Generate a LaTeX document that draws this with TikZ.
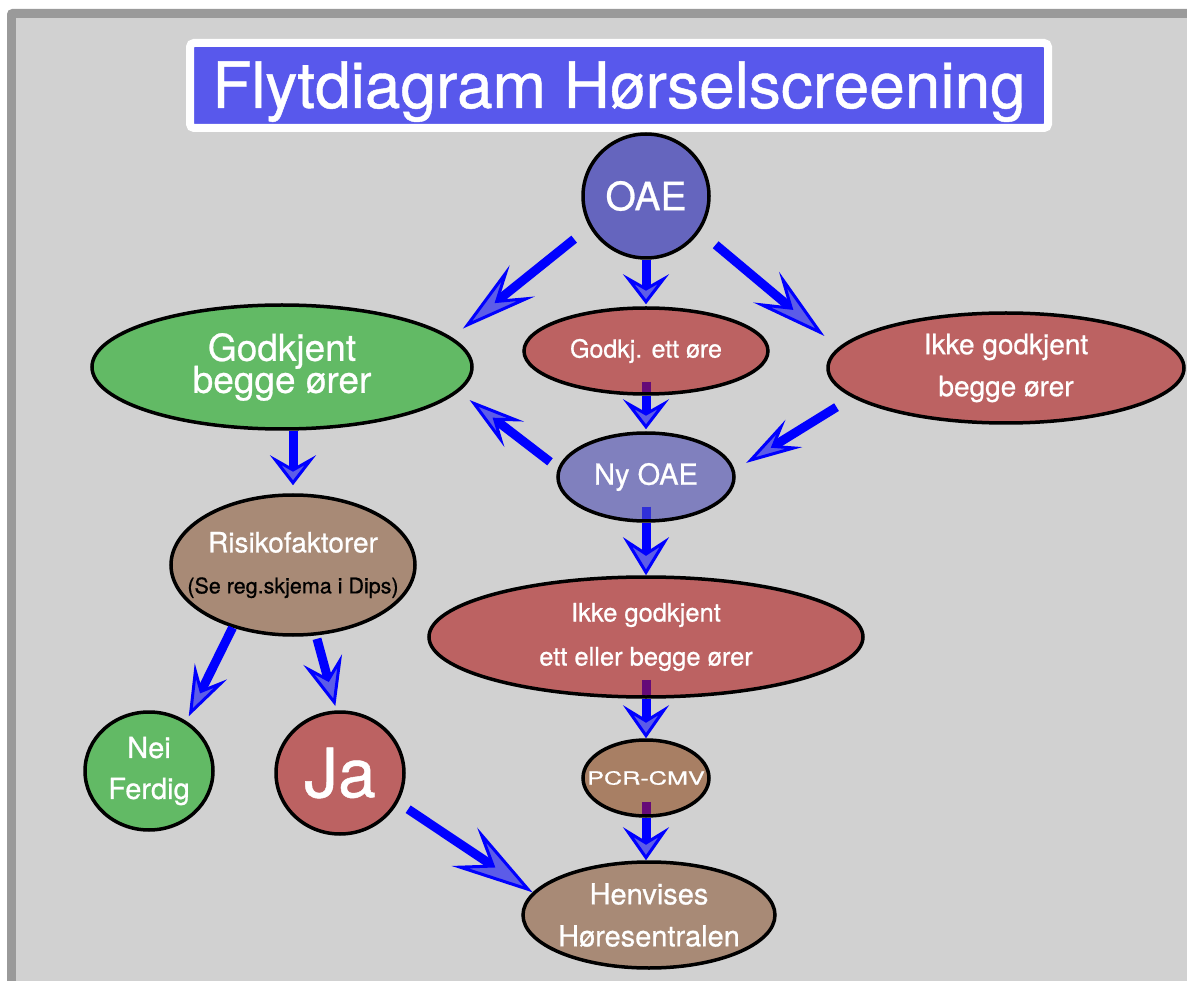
\documentclass[tikz,border=0pt]{standalone}
\usepackage{fontspec}
\usepackage{graphicx}
\setmainfont{TeX Gyre Heros}[FakeBold=0.7]
\usetikzlibrary{shapes.geometric,arrows.meta,calc}

\definecolor{bggray}{HTML}{D1D1D1}
\definecolor{framegray}{HTML}{9A9A9A}
\definecolor{titleblue}{HTML}{5858EC}
\definecolor{oaeblue}{HTML}{6565BE}
\definecolor{nyblue}{HTML}{8080BE}
\definecolor{passgreen}{HTML}{62BA65}
\definecolor{failred}{HTML}{BC6262}
\definecolor{taupe}{HTML}{A88A76}
\definecolor{pcrbrown}{HTML}{A87F64}
\definecolor{arrowblue}{HTML}{0000FF}
\definecolor{tipfill}{HTML}{5C5CE8}
\definecolor{stubpurple}{HTML}{650A78}
\definecolor{stubblue}{HTML}{3030D8}

\newcommand\nodefont[2]{\fontsize{#1}{#2}\selectfont\lineskiplimit=-100pt\relax}

\tikzset{
  stage/.style={ellipse, draw=black, line width=3.5pt, inner sep=0pt, text=white, align=center},
  flow/.style n args={3}{draw=arrowblue, line width=9pt,
    -{Stealth[length=#1, width=#2, inset=#3, line width=3pt, fill=tipfill]}},
  stubline/.style={draw=#1, line width=9pt},
}

\begin{document}
\begin{tikzpicture}[x=1pt, y=-1pt]
    \useasboundingbox (0,0) rectangle (1187,981);
    % frame and background
    \fill[framegray, rounded corners=5pt] (7,9) rectangle (1210,1000);
    \fill[bggray] (16,18) rectangle (1210,1000);

    % title
    \node[fill=titleblue, draw=white, line width=8pt, rounded corners=4pt, inner sep=0pt,
          minimum width=858pt, minimum height=85pt, text=white, font=\nodefont{64}{70},
          text height=45pt, text depth=0pt] (title) at (619,85.5) {Flytdiagram Hørselscreening};

    % stages
    \node[stage, fill=oaeblue, minimum width=126pt, minimum height=124pt, font=\nodefont{39}{45}] (oae) at (646,196) {OAE};
    \node[stage, fill=passgreen, minimum width=380pt, minimum height=124pt, font=\nodefont{37}{32}] (godkB) at (282,367) {Godkjent\\begge ører};
    \node[stage, fill=failred, minimum width=244pt, minimum height=86pt, font=\nodefont{25}{30}] (godkE) at (646,351) {Godkj. ett øre};
    \node[stage, fill=failred, minimum width=356pt, minimum height=110pt, font=\nodefont{28}{42}] (ikkeB) at (1006,368) {Ikke godkjent\\begge ører};
    \node[stage, fill=nyblue, minimum width=176pt, minimum height=88pt, font=\nodefont{29}{34}] (nyOAE) at (646,477) {Ny OAE};
    \node[stage, fill=taupe, inner xsep=-30pt, minimum width=244pt, minimum height=140pt, font=\nodefont{28}{41}] (risiko) at (293,565)
        {Risikofaktorer\\{\color{black}\fontsize{21.5}{41}\selectfont(Se reg.skjema i Dips)}};
    \node[stage, fill=failred, minimum width=434pt, minimum height=120pt, font=\nodefont{25.5}{44}] (ikkeE) at (646,637) {Ikke godkjent\\ett eller begge ører};
    \node[stage, fill=pcrbrown, inner xsep=-25pt, minimum width=126pt, minimum height=76pt, font=\nodefont{18}{22}] (pcr) at (646,778) {\scalebox{1.4}[1]{PCR-CMV}};
    \node[stage, fill=taupe, inner xsep=-5pt, minimum width=252pt, minimum height=106pt, font=\nodefont{29}{42}] (henv) at (649,915) {Henvises\\Høresentralen};
    \node[stage, fill=passgreen, minimum width=128pt, minimum height=118pt, font=\nodefont{29}{41}] (nei) at (149,771) {Nei\\Ferdig};
    \node[stage, fill=failred, minimum width=128pt, minimum height=122pt, font=\nodefont{68}{70}] (ja) at (340,773) {Ja};

    % arrows
    \draw[flow={76pt}{40pt}{30pt}] ($(oae)!1.30!(oae.211)$) -- ($(godkB)!1.12!(godkB.12)$);
    \draw[flow={30pt}{46pt}{13pt}] (oae.south) -- ([yshift=2pt]godkE.north);
    \draw[flow={76pt}{40pt}{30pt}] ($(oae)!1.32!(oae.325)$) -- ($(ikkeB)!1.157!(ikkeB.170)$);
    \draw[stubline=stubpurple] ([yshift=14pt]godkE.south) -- ([yshift=3.5pt]godkE.south);
    \draw[flow={30pt}{46pt}{13pt}] (godkE.south) -- ([yshift=2pt]nyOAE.north);
    \draw[flow={56pt}{32pt}{22pt}] ($(ikkeB)!1.168!(ikkeB.193)$) -- ($(nyOAE)!1.158!(nyOAE.8)$);
    \draw[flow={56pt}{32pt}{22pt}] ($(nyOAE)!1.12!(nyOAE.171)$) -- ($(godkB)!1.108!(godkB.-10)$);
    \draw[stubline=stubblue] ([yshift=16pt]nyOAE.south) -- ([yshift=3.5pt]nyOAE.south);
    \draw[flow={38pt}{46pt}{15pt}] (nyOAE.south) -- (ikkeE.north);
    \draw[flow={30pt}{46pt}{13pt}] (risiko.north |- godkB.south) -- ([yshift=8pt]risiko.north);
    \draw[flow={50pt}{36pt}{20pt}] (risiko.226) -- ($(nei)!1.085!(nei.54)$);
    \draw[flow={48pt}{40pt}{19pt}] ($(risiko)!1.047!(risiko.288)$) -- ($(ja)!1.07!(ja.94)$);
    \draw[stubline=stubpurple] ([yshift=19pt]ikkeE.south) -- ([yshift=3.5pt]ikkeE.south);
    \draw[flow={33pt}{46pt}{14pt}] (ikkeE.south) -- (pcr.north);
    \draw[stubline=stubpurple] ([yshift=16pt]pcr.south) -- ([yshift=3.5pt]pcr.south);
    \draw[flow={33pt}{46pt}{14pt}] (pcr.south) -- (pcr.south |- henv.north);
    \draw[flow={82pt}{46pt}{32pt}] ($(ja)!1.186!(ja.-28)$) -- (henv.169);
\end{tikzpicture}
\end{document}
